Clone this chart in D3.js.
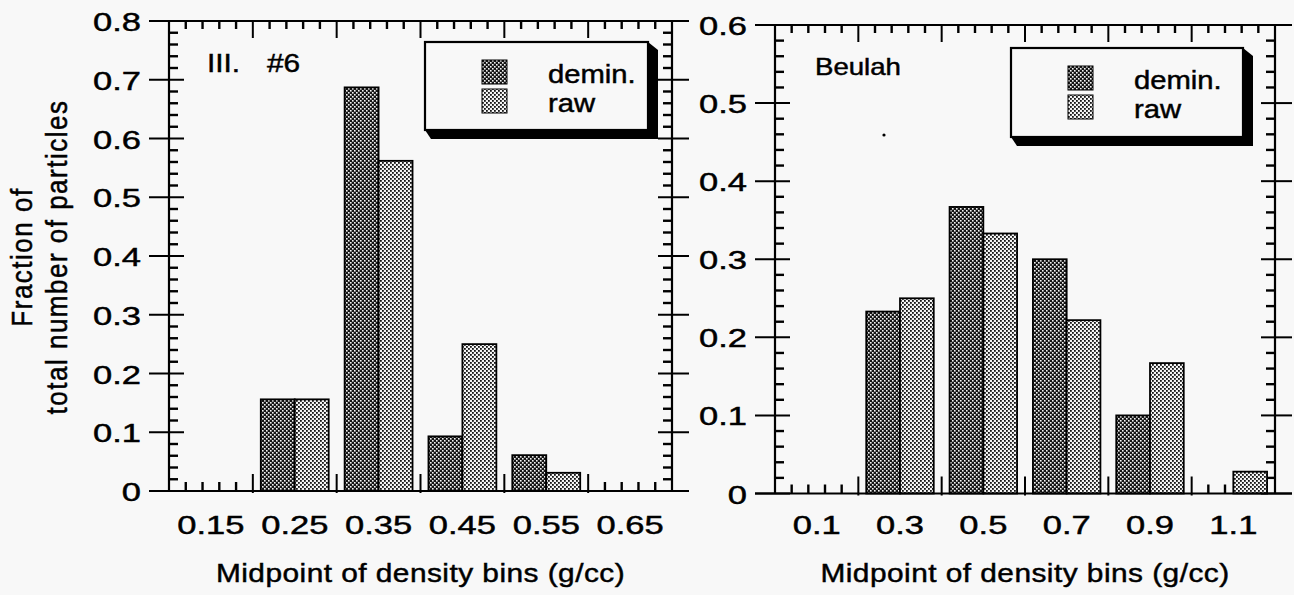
<!DOCTYPE html>
<meta charset="utf-8">
<script src="https://d3js.org/d3.v7.js"></script>
<style>
  body { margin: 0; background: #f8f8f8; }
  text { font-family: "Liberation Sans", Arial, sans-serif; fill: #000; stroke: #000; stroke-width: 0.45px; }
</style>
<body>
<div id="chart"></div>
<script>
  // series names (legend)
  const seriesNames = ["demin.", "raw"];

  // Ill. #6 panel
  const illMids = [0.15, 0.25, 0.35, 0.45, 0.55, 0.65];
  const illLabels = ["0.15", "0.25", "0.35", "0.45", "0.55", "0.65"];
  const illDemin = [0, 0.156, 0.687, 0.093, 0.061, 0];
  const illRaw = [0, 0.156, 0.562, 0.25, 0.031, 0];
  const illYTicks = [0, 0.1, 0.2, 0.3, 0.4, 0.5, 0.6, 0.7, 0.8];
  const illYLabels = ["0", "0.1", "0.2", "0.3", "0.4", "0.5", "0.6", "0.7", "0.8"];

  // Beulah panel
  const beulahMids = [0.1, 0.3, 0.5, 0.7, 0.9, 1.1];
  const beulahLabels = ["0.1", "0.3", "0.5", "0.7", "0.9", "1.1"];
  const beulahDemin = [0, 0.233, 0.367, 0.3, 0.1, 0];
  const beulahRaw = [0, 0.25, 0.333, 0.222, 0.167, 0.028];
  const beulahYTicks = [0, 0.1, 0.2, 0.3, 0.4, 0.5, 0.6];
  const beulahYLabels = ["0", "0.1", "0.2", "0.3", "0.4", "0.5", "0.6"];

  const width = 1294, height = 595;

  const svg = d3.select("#chart")
    .append("svg")
      .attr("width", width)
      .attr("height", height);

  svg.append("rect").attr("width", width).attr("height", height).attr("fill", "#f8f8f8");

  // dithered fills like the old print
  const defs = svg.append("defs");
  const pd = defs.append("pattern")
    .attr("id", "pat-demin").attr("patternUnits", "userSpaceOnUse")
    .attr("width", 4).attr("height", 4);
  pd.append("rect").attr("width", 4).attr("height", 4).attr("fill", "#151515");
  pd.append("rect").attr("x", 0).attr("y", 0).attr("width", 1.6).attr("height", 1.6).attr("fill", "#f4f4f4");
  pd.append("rect").attr("x", 2).attr("y", 2).attr("width", 1.6).attr("height", 1.6).attr("fill", "#f4f4f4");

  const pr = defs.append("pattern")
    .attr("id", "pat-raw").attr("patternUnits", "userSpaceOnUse")
    .attr("width", 4).attr("height", 4);
  pr.append("rect").attr("width", 4).attr("height", 4).attr("fill", "#f4f4f4");
  pr.append("rect").attr("x", 0).attr("y", 0).attr("width", 1.8).attr("height", 1.8).attr("fill", "#151515");
  pr.append("rect").attr("x", 2).attr("y", 2).attr("width", 1.8).attr("height", 1.8).attr("fill", "#151515");

  const fills = ["url(#pat-demin)", "url(#pat-raw)"];

  function addText(g, x, y, str, size, sx, anchor) {
    return g.append("text")
      .attr("transform", `translate(${x},${y}) scale(${sx},1)`)
      .attr("text-anchor", anchor || "start")
      .style("font-size", size + "px")
      .text(str);
  }

  function tick(g, x1, y1, x2, y2, w) {
    g.append("line")
      .attr("x1", x1).attr("y1", y1).attr("x2", x2).attr("y2", y2)
      .attr("stroke", "#000").attr("stroke-width", w || 2);
  }

  function drawPanel(p) {
    const g = svg.append("g");
    const binW = p.mids[1] - p.mids[0];
    const x0v = p.mids[0] - binW / 2;
    const x1v = p.mids[p.mids.length - 1] + binW / 2;
    const ymax = d3.max(p.yTicks);
    const x = d3.scaleLinear().domain([x0v, x1v]).range(p.xRange);
    const y = d3.scaleLinear().domain([0, ymax]).range(p.yRange);
    const X0 = x(x0v), X1 = x(x1v), Y0 = y(0), YT = y(ymax);

    // minor y ticks every 0.02, minor x ticks every fifth of a bin
    const nMinorY = Math.round(ymax / 0.02);
    const minorY = [];
    for (let i = 1; i < nMinorY; i++) if (i % 5 !== 0) minorY.push(i * 0.02);
    const minorX = [];
    for (let i = 1; i < p.mids.length * 5; i++) if (i % 5 !== 0) minorX.push(x0v + i * binW / 5);
    const edges = [];
    for (let i = 1; i < p.mids.length; i++) edges.push(x0v + i * binW);

    const tk = g.append("g");
    p.yTicks.forEach(v => {
      tick(tk, X0 - 20, y(v), X0 + 15, y(v));
      tick(tk, X1 - 14, y(v), X1 + 17, y(v));
    });
    minorY.forEach(v => {
      tick(tk, X0, y(v), X0 + 9, y(v), 2.4);
      tick(tk, X1 - 9, y(v), X1, y(v), 2.4);
    });
    minorX.forEach(v => {
      tick(tk, x(v), YT, x(v), YT + 8, 2.4);
      tick(tk, x(v), Y0, x(v), Y0 - 9, 2.4);
    });
    edges.forEach(v => {
      tick(tk, x(v), YT, x(v), YT + 17);
      tick(tk, x(v), Y0 + 2, x(v), Y0 - 17);
    });

    // bars
    const bw = (x(x0v + binW) - x(x0v));
    [p.demin, p.raw].forEach((vals, s) => {
      g.selectAll(null)
        .data(vals.map((v, i) => ({ v: v, m: p.mids[i] })).filter(d => d.v > 0))
        .join("rect")
          .attr("x", d => x(d.m - binW / 2) + bw * 0.095 + s * bw * 0.405)
          .attr("width", bw * 0.405)
          .attr("y", d => y(d.v))
          .attr("height", d => Y0 - y(d.v))
          .attr("fill", fills[s])
          .attr("stroke", "#000")
          .attr("stroke-width", 1.8);
    });

    // frame
    const fr = g.append("g").attr("stroke", "#000").attr("stroke-width", 2.2);
    fr.append("line").attr("x1", X0).attr("x2", X0).attr("y1", YT).attr("y2", Y0);
    fr.append("line").attr("x1", X1).attr("x2", X1).attr("y1", YT).attr("y2", Y0);
    fr.append("line").attr("x1", X0 - 20).attr("x2", X1 + 17).attr("y1", YT).attr("y2", YT);
    fr.append("line").attr("x1", X0 - 20).attr("x2", X1 + 17).attr("y1", Y0).attr("y2", Y0);

    // tick labels
    p.yTicks.forEach((v, i) => addText(g, X0 - 28, y(v) + 10, p.yLabels[i], 25, 1.38, "end"));
    p.mids.forEach((m, i) => addText(g, x(m), 534, p.labels[i], 25, 1.38, "middle"));

    // x title
    addText(g, (X0 + X1) / 2, 582, "Midpoint of density bins (g/cc)", 25.5, 1.17, "middle")
      .style("letter-spacing", "0.4px");

    // panel label
    p.tag.forEach(t => addText(g, t.x, t.y, t.text, t.size, t.sx, "start"));

    // legend box with drop shadow
    const L = p.legend.x, T = p.legend.y, R = L + p.legend.w, B = T + p.legend.h;
    g.append("polygon")
      .attr("points", [[L, B], [L + 6, B + 9], [R + 10, B + 9], [R + 10, T + 8], [R, T]].map(q => q.join(",")).join(" "))
      .attr("fill", "#000");
    g.append("rect")
      .attr("x", L).attr("y", T).attr("width", R - L).attr("height", B - T)
      .attr("fill", "#f8f8f8").attr("stroke", "#000").attr("stroke-width", 2.2);
    seriesNames.forEach((name, s) => {
      g.append("rect")
        .attr("x", L + 57).attr("y", T + 18 + s * 29)
        .attr("width", 25).attr("height", 24)
        .attr("fill", fills[s]).attr("stroke", "#000").attr("stroke-width", 1);
      addText(g, L + 123, T + 41 + s * 29, name, 25, 1.17, "start");
    });
  }

  drawPanel({
    mids: illMids, labels: illLabels, demin: illDemin, raw: illRaw,
    yTicks: illYTicks, yLabels: illYLabels,
    xRange: [169, 672], yRange: [491, 21],
    tag: [{ text: "III.", x: 207, y: 72, size: 25.5, sx: 1.17 },
          { text: "#6", x: 267, y: 72, size: 25.5, sx: 1.17 }],
    legend: { x: 425, y: 42, w: 223, h: 88 }
  });

  drawPanel({
    mids: beulahMids, labels: beulahLabels, demin: beulahDemin, raw: beulahRaw,
    yTicks: beulahYTicks, yLabels: beulahYLabels,
    xRange: [775, 1275], yRange: [493.5, 25],
    tag: [{ text: "Beulah", x: 815, y: 75, size: 23, sx: 1.2 }],
    legend: { x: 1011, y: 48, w: 232, h: 89 }
  });

  // small speck in the Beulah panel
  svg.append("circle").attr("cx", 884).attr("cy", 135).attr("r", 1.6).attr("fill", "#000");

  // y axis title
  [["Fraction of", 32], ["total number of particles", 67]].forEach(d => {
    svg.append("text")
      .attr("transform", `translate(${d[1]},257) scale(1.17,1) rotate(-90)`)
      .attr("text-anchor", "middle")
      .style("font-size", "26px")
      .style("letter-spacing", "1.5px")
      .text(d[0]);
  });
</script>
</body>
